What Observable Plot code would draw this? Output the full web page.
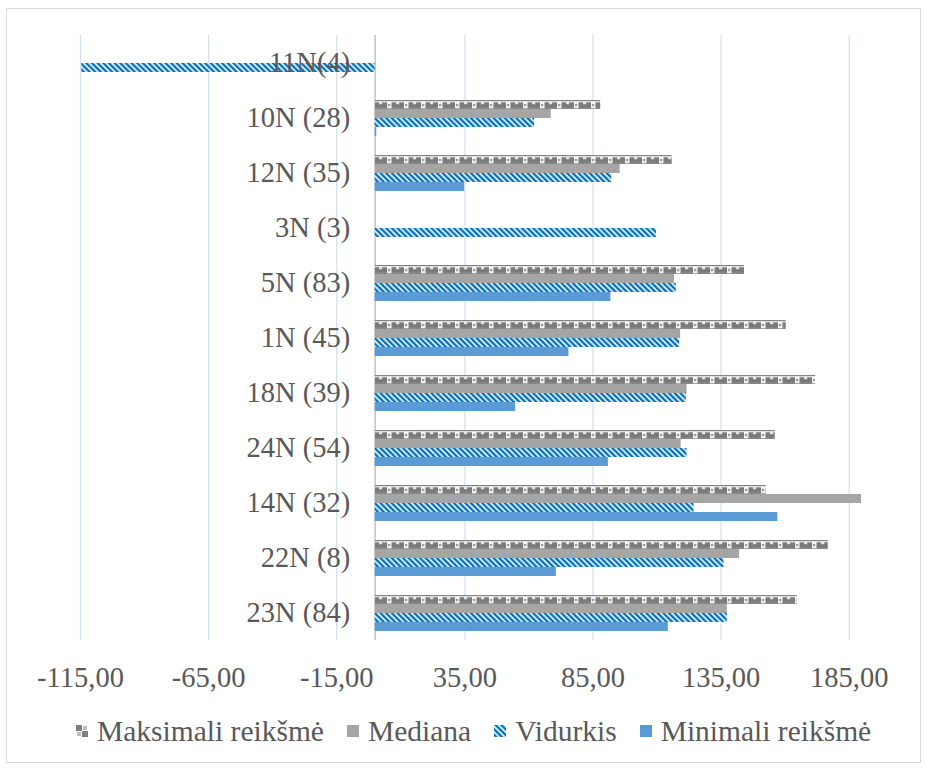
<!DOCTYPE html>
<html>
<head>
<meta charset="utf-8">
<script src="https://cdn.jsdelivr.net/npm/d3@7"></script>
<script src="https://cdn.jsdelivr.net/npm/@observablehq/plot@0.6"></script>
<style>
  body { margin: 0; background: #fff; }
  #frame { position: absolute; left: 6px; top: 8px; width: 915px; height: 755px; border: 1px solid #d9d9d9; box-sizing: border-box; pointer-events: none; }
  #chart { position: absolute; left: 0; top: 0; }
  #legend { position: absolute; left: 76px; top: 714px; display: flex; align-items: center; font-family: "Liberation Serif", "DejaVu Serif", serif; font-size: 29.5px; color: #595959; line-height: 34px; white-space: nowrap; }
  .item { display: flex; align-items: center; margin-right: 23px; }
  .sw { width: 12px; height: 12px; margin-right: 9px; display: block; }
</style>
</head>
<body>
<svg width="0" height="0" style="position:absolute">
  <defs>
    <pattern id="pMean" patternUnits="userSpaceOnUse" width="4" height="4" patternTransform="rotate(-45)">
      <rect width="4" height="4" fill="#ffffff"/>
      <rect width="2.4" height="4" fill="#0070c0"/>
    </pattern>
    <pattern id="pMax" patternUnits="userSpaceOnUse" width="17" height="9.18">
      <rect width="17" height="9.18" fill="#ffffff"/>
      <rect x="0.5" y="0.3" width="12.5" height="6" fill="#7a7a7a"/>
      <rect x="5" y="0.3" width="3.2" height="1.8" fill="#ffffff"/>
      <rect x="0" y="6.3" width="17" height="2.2" fill="#858585"/>
      <rect x="13.8" y="2" width="2.6" height="2.2" fill="#8f8f8f"/>
    </pattern>
    <pattern id="pMaxLeg" patternUnits="userSpaceOnUse" width="12" height="12">
      <rect width="12" height="12" fill="#ffffff"/>
      <rect x="0" y="0" width="6" height="6" fill="#7f7f7f"/>
      <rect x="6" y="6" width="6" height="6" fill="#7f7f7f"/>
      <rect x="7" y="1" width="4" height="4" fill="#bdbdbd"/>
      <rect x="1" y="7" width="4" height="4" fill="#bdbdbd"/>
    </pattern>
    <pattern id="pMeanLeg" patternUnits="userSpaceOnUse" width="4" height="4" patternTransform="rotate(-45)">
      <rect width="4" height="4" fill="#ffffff"/>
      <rect width="2.4" height="4" fill="#0070c0"/>
    </pattern>
  </defs>
</svg>
<div id="chart"></div>
<div id="legend"></div>
<div id="frame"></div>
<script>
const categories = ["11N(4)", "10N (28)", "12N (35)", "3N (3)", "5N (83)", "1N (45)", "18N (39)", "24N (54)", "14N (32)", "22N (8)", "23N (84)"];
const series = ["Maksimali reikšmė", "Mediana", "Vidurkis", "Minimali reikšmė"];
const maxVals    = [null, 88.0, 115.9, null, 144.1, 160.4, 171.9, 156.1, 152.6, 176.8, 164.7];
const medianVals = [null, 68.7, 95.6, null, 116.8, 119.2, 121.7, 119.4, 189.8, 142.2, 137.4];
const meanVals   = [-114.5, 62.2, 92.3, 109.8, 117.5, 118.8, 121.4, 121.7, 124.4, 136.1, 137.4];
const minVals    = [null, 0.6, 34.9, null, 92.0, 75.6, 54.8, 91.0, 157.1, 70.7, 114.4];
const xTicks = [-115, -65, -15, 35, 85, 135, 185];
const fills = ["url(#pMax)", "#a5a5a5", "url(#pMean)", "#5b9bd5"];
const legendFills = ["url(#pMaxLeg)", "#a5a5a5", "url(#pMeanLeg)", "#5b9bd5"];

const seriesVals = [maxVals, medianVals, meanVals, minVals];
const rows = [];
categories.forEach((c, i) => {
  seriesVals.forEach((arr, j) => {
    if (arr[i] != null) rows.push({category: c, series: series[j], value: arr[i]});
  });
});

const fmt = d => d.toFixed(2).replace(".", ",");

const chart = Plot.plot({
  width: 926,
  height: 700,
  marginLeft: 80,
  marginRight: 26,
  marginTop: 34,
  marginBottom: 60,
  style: {fontFamily: "'Liberation Serif', 'DejaVu Serif', serif", fontSize: "28.5px", color: "#595959", background: "transparent", overflow: "visible"},
  x: {domain: [-115, 205], ticks: xTicks, tickFormat: fmt, tickSize: 0, tickPadding: 26, label: null},
  y: {domain: series, axis: null, paddingInner: 0, paddingOuter: 0.95},
  fy: {domain: categories, axis: null, padding: 0},
  color: {domain: series, range: fills},
  marks: [
    Plot.ruleX(xTicks, {stroke: "#d3e2f3", strokeWidth: 1.3}),
    Plot.ruleX([0], {stroke: "#c8c8c8", strokeWidth: 1.6}),
    Plot.barX(rows, {x: "value", y: "series", fy: "category", fill: "series", inset: 0}),
    Plot.text(categories, {fy: d => d, x: () => 0, text: d => d, textAnchor: "end", dx: -25, fill: "#595959"})
  ]
});
document.getElementById("chart").appendChild(chart);

const legend = document.getElementById("legend");
series.forEach((s, j) => {
  const item = document.createElement("div");
  item.className = "item";
  item.innerHTML = `<svg class="sw" width="12" height="12"><rect width="12" height="12" fill="${legendFills[j]}"/></svg><span>${s}</span>`;
  legend.appendChild(item);
});
</script>
</body>
</html>
